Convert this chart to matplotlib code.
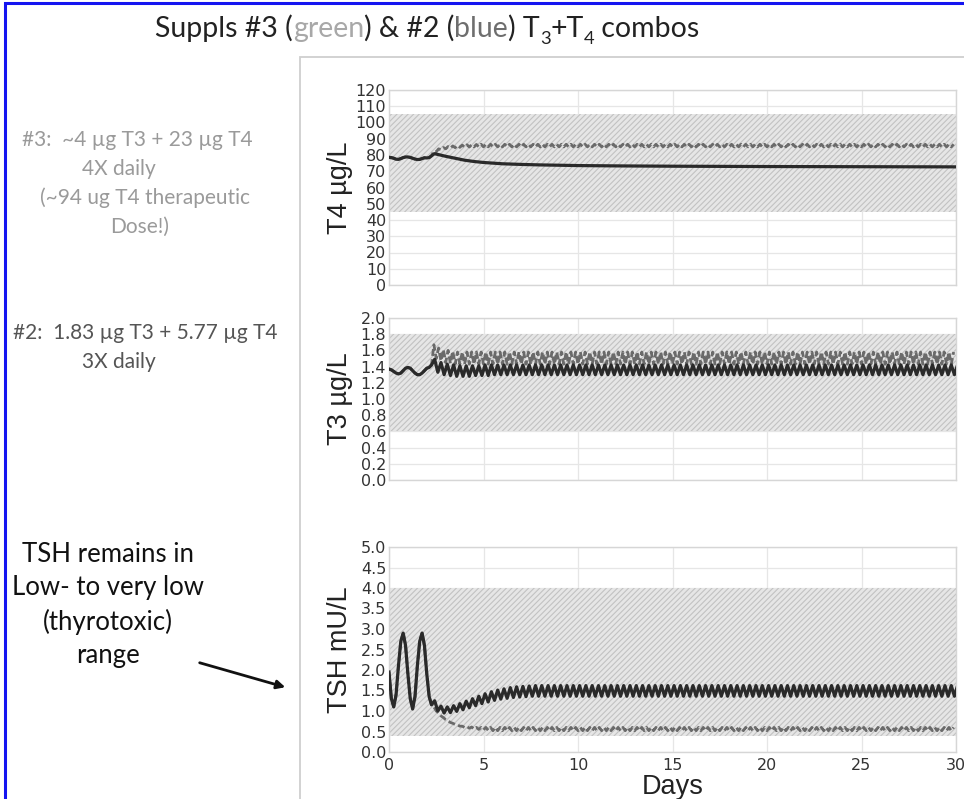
import numpy as np
import matplotlib.pyplot as plt
from matplotlib.patches import Rectangle

W, H = 964, 799

# untreated baseline shared by both runs (days 0 - 2.125)
baseline_days = [0.0, 0.125, 0.25, 0.375, 0.5, 0.625, 0.75, 0.875, 1.0, 1.125,
                 1.25, 1.375, 1.5, 1.625, 1.75, 1.875, 2.0, 2.125]
t4_baseline = [78.6, 78.4, 78.0, 77.4, 77.3, 77.8, 78.4, 78.8, 78.8, 78.5,
               78.0, 77.5, 77.2, 77.3, 77.8, 78.3, 78.2, 78.4]
t3_baseline = [1.37, 1.36, 1.34, 1.32, 1.31, 1.32, 1.35, 1.38, 1.39, 1.38,
               1.35, 1.32, 1.30, 1.30, 1.32, 1.35, 1.38, 1.39]
tsh_baseline = [1.95, 1.30, 1.10, 1.40, 2.10, 2.70, 2.90, 2.60, 1.90, 1.30,
                1.05, 1.35, 2.10, 2.70, 2.90, 2.60, 1.90, 1.35]

start_day = 2.25

# Suppl #2 (blue): 1.83 ug T3 + 5.77 ug T4, 3X daily -> 84 doses
t4_s2_days = [2.25, 2.4, 2.6, 3.0, 3.5, 4.0, 4.5, 5.0, 6.0, 7.0, 8.0,
              10.0, 12.0, 15.0, 20.0, 25.0, 30.0]
t4_s2 = [79.5, 80.8, 80.3, 79.2, 78.0, 76.8, 76.0, 75.4, 74.6, 74.2, 73.9,
         73.5, 73.3, 73.1, 72.9, 72.8, 72.7]
t3_s2_troughs = [1.42, 1.33, 1.30, 1.29, 1.28, 1.28, 1.28, 1.29, 1.29, 1.29] + [1.30] * 74
t3_s2_peaks = [1.49, 1.45, 1.43, 1.42, 1.41, 1.41, 1.41, 1.41, 1.42] + [1.42] * 75
tsh_s2_troughs = [1.15, 1.00, 0.95, 0.96, 0.99, 1.03, 1.08, 1.13, 1.18, 1.22,
                  1.26, 1.29, 1.31, 1.33, 1.34, 1.35] + [1.36] * 68
tsh_s2_peaks = [1.25, 1.12, 1.10, 1.13, 1.18, 1.24, 1.30, 1.36, 1.42, 1.47,
                1.51, 1.54, 1.57, 1.59, 1.60, 1.61] + [1.62] * 68

# Suppl #3 (green): ~4 ug T3 + 23 ug T4, 4X daily -> 111 doses
t4_s3_troughs = [79.5, 82.0, 83.2, 83.8, 84.2, 84.5, 84.7, 84.8, 84.9] + [85.0] * 102
t4_s3_peaks = [82.5, 83.8, 84.6, 85.2, 85.6, 85.9, 86.1, 86.3, 86.4, 86.5] + [86.6] * 101
t3_s3_troughs = [1.42, 1.50, 1.47, 1.45, 1.44, 1.43] + [1.43] * 105
t3_s3_peaks = [1.67, 1.63, 1.61, 1.60, 1.59, 1.58] + [1.58] * 105
tsh_s3_troughs = [1.15, 1.00, 0.88, 0.79, 0.72, 0.67, 0.63, 0.60, 0.58, 0.56,
                  0.55, 0.54, 0.53] + [0.52] * 98
tsh_s3_peaks = [1.10, 0.95, 0.84, 0.76, 0.70, 0.66, 0.63, 0.62, 0.61] + [0.60] * 102

# normal reference ranges
t4_range = (45, 105)
t3_range = (0.6, 1.8)
tsh_range = (0.4, 4.0)


def dosed(per_day, troughs, peaks, baseline):
    # pre-dose trough at each dose, peak half an interval later
    n = len(peaks)
    dose_t = start_day + np.arange(n) / per_day
    t = np.column_stack([dose_t, dose_t + 0.5 / per_day]).ravel()
    v = np.column_stack([troughs, peaks]).ravel()
    return (np.concatenate([baseline_days, t]),
            np.concatenate([baseline, v]))


def px_axes(x0, y0, x1, y1):
    return [x0 / W, 1 - y1 / H, (x1 - x0) / W, (y1 - y0) / H]


plt.rcParams["hatch.linewidth"] = 0.8
fig = plt.figure(figsize=(W / 100, H / 100), dpi=100)
fig.patch.set_facecolor("white")

# outer blue frame and the grey chart panel
fig.add_artist(Rectangle((5 / W, -0.05), 1.1, 1 - 3 / H + 0.05, transform=fig.transFigure,
                         fill=False, edgecolor="#1414f0", linewidth=2.2))
fig.add_artist(Rectangle((300 / W, -0.05), 1.1, 1 - 57 / H + 0.05, transform=fig.transFigure,
                         fill=False, edgecolor="#cfcfcf", linewidth=1.3))

tick_font = dict(family=["Liberation Sans Narrow", "DejaVu Sans"], size=11.5)
label_font = ["Liberation Sans", "DejaVu Sans"]
solid_kw = dict(color="#2a2a2a", linewidth=2.3, solid_joinstyle="round")
dash_kw = dict(color="#6a6a6a", linewidth=2.0, linestyle=(0, (2.5, 1.2)))

panels = [
    ("T4 µg/L", (389, 90, 956, 285), (0, 120), np.arange(0, 121, 10), t4_range, "{:.0f}"),
    ("T3 µg/L", (389, 318, 956, 480), (0, 2.0), np.arange(0, 2.01, 0.2), t3_range, "{:.1f}"),
    ("TSH mU/L", (389, 547, 956, 752), (0, 5.0), np.arange(0, 5.01, 0.5), tsh_range, "{:.1f}"),
]

axes = []
for label, box, ylim, yticks, band, fmt in panels:
    ax = fig.add_axes(px_axes(*box))
    ax.set_xlim(0, 30)
    ax.set_ylim(*ylim)
    ax.set_yticks(yticks)
    ax.set_yticklabels([fmt.format(v) for v in yticks], fontdict=tick_font, color="#333333")
    ax.set_xticks(np.arange(0, 31, 5))
    ax.grid(True, color="#e6e6e6", linewidth=0.9)
    ax.set_axisbelow(True)
    ax.tick_params(length=0, pad=2)
    for s in ax.spines.values():
        s.set_color("#d6d6d6")
        s.set_linewidth(1.0)
    ax.axhspan(band[0], band[1], facecolor="#e6e6e6", edgecolor="#c2c2c2",
               hatch="//////", linewidth=0, zorder=1)
    fig.text(340 / W, 1 - (box[1] + box[3]) / 2 / H, label,
             rotation=90, ha="center", va="center", fontsize=19.5,
             family=label_font, color="#222222")
    axes.append(ax)

ax_t4, ax_t3, ax_tsh = axes
for ax in (ax_t4, ax_t3):
    ax.tick_params(labelbottom=False)
ax_tsh.set_xticklabels([str(v) for v in range(0, 31, 5)], fontdict=tick_font, color="#333333")
ax_tsh.tick_params(axis="x", pad=4)
ax_tsh.set_xlabel("Days", fontsize=19.5, family=label_font, color="#222222", labelpad=1)

# T4
t, v = dosed(4, t4_s3_troughs, t4_s3_peaks, t4_baseline)
ax_t4.plot(t, v, zorder=3, **dash_kw)
ax_t4.plot(baseline_days + t4_s2_days, t4_baseline + t4_s2, zorder=4, **solid_kw)

# T3
t, v = dosed(4, t3_s3_troughs, t3_s3_peaks, t3_baseline)
ax_t3.plot(t, v, zorder=3, **dash_kw)
t, v = dosed(3, t3_s2_troughs, t3_s2_peaks, t3_baseline)
ax_t3.plot(t, v, zorder=4, **solid_kw)

# TSH
t, v = dosed(4, tsh_s3_troughs, tsh_s3_peaks, tsh_baseline)
ax_tsh.plot(t, v, zorder=3, **dash_kw)
t, v = dosed(3, tsh_s2_troughs, tsh_s2_peaks, tsh_baseline)
ax_tsh.plot(t, v, zorder=4, **solid_kw)

# title with coloured words and subscripts
renderer = fig.canvas.get_renderer()
calibri_like = ["Lato", "DejaVu Sans"]


def text_runs(x, y, parts, size):
    for text, color, sub in parts:
        s = size * 0.65 if sub else size
        yy = y + (7 if sub else 0)
        t = fig.text(x / W, 1 - yy / H, text, fontsize=s, color=color,
                     family=calibri_like, va="baseline", ha="left")
        x += t.get_window_extent(renderer).width


text_runs(155, 37, [("Suppls #3 (", "#222222", False), ("green", "#a8a8a8", False),
                    (") & #2 (", "#222222", False), ("blue", "#6e6e6e", False),
                    (") T", "#222222", False), ("3", "#222222", True),
                    ("+T", "#222222", False), ("4", "#222222", True),
                    (" combos", "#222222", False)], 20.5)

# dose notes
note_kw = dict(fontsize=15, family=calibri_like, va="center", ha="left")
fig.text(22 / W, 1 - 140 / H, "#3:  ~4 µg T3 + 23 µg T4", color="#9a9a9a", **note_kw)
fig.text(82 / W, 1 - 169 / H, "4X daily", color="#9a9a9a", **note_kw)
fig.text(40 / W, 1 - 198 / H, "(~94 ug T4 therapeutic", color="#9a9a9a", **note_kw)
fig.text(110 / W, 1 - 227 / H, "Dose!)", color="#9a9a9a", **note_kw)
fig.text(13 / W, 1 - 333 / H, "#2:  1.83 µg T3 + 5.77 µg T4", color="#555555", **note_kw)
fig.text(82 / W, 1 - 362 / H, "3X daily", color="#555555", **note_kw)

fig.text(108 / W, 1 - 605 / H, "TSH remains in\nLow- to very low\n(thyrotoxic)\nrange",
         fontsize=18.5, family=calibri_like, color="#111111", ha="center", va="center",
         linespacing=1.42)
fig.add_artist(plt.Annotation("", xy=(288, H - 688), xytext=(197, H - 662),
                              xycoords="figure pixels", textcoords="figure pixels",
                              arrowprops=dict(arrowstyle="-|>,head_length=0.5,head_width=0.25",
                                              color="#111111", lw=2)))

fig.savefig("out.png", dpi=100)
